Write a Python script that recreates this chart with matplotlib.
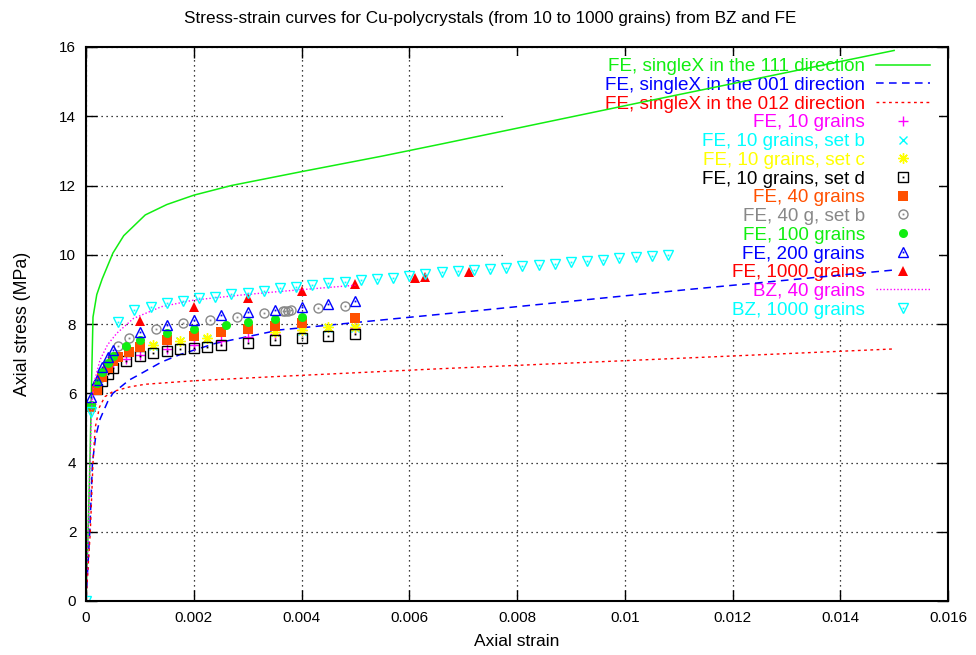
import matplotlib
matplotlib.use("Agg")
import matplotlib.pyplot as plt
from matplotlib.patches import Rectangle
from matplotlib.legend_handler import HandlerTuple

plt.rcParams['font.family'] = ['Liberation Sans', 'DejaVu Sans']

# ---------------- data ----------------
x111 = [0, 0.00004, 0.00008, 0.00011, 0.00013, 0.0002, 0.0003, 0.0005, 0.0007, 0.0011, 0.0015, 0.002, 0.0027, 0.004, 0.0055, 0.0066, 0.0103, 0.015]
y111 = [0, 2.0, 4.5, 6.8, 8.2, 8.85, 9.3, 10.05, 10.55, 11.15, 11.45, 11.72, 12.0, 12.4, 12.85, 13.2, 14.4, 15.9]

x001 = [0, 0.00007, 0.00012, 0.00018, 0.00026, 0.0004, 0.0005, 0.0008, 0.001, 0.0014, 0.00175, 0.0024, 0.0036, 0.0071, 0.0112, 0.015]
y001 = [0, 2.0, 4.0, 4.75, 5.25, 5.75, 6.0, 6.38, 6.55, 6.9, 7.12, 7.44, 7.83, 8.36, 9.0, 9.56]

x012 = [0, 0.00008, 0.00013, 0.00017, 0.00025, 0.00035, 0.0005, 0.0008, 0.0011, 0.002, 0.0035, 0.0066, 0.015]
y012 = [0, 2.0, 4.0, 5.0, 5.6, 5.9, 6.05, 6.18, 6.26, 6.36, 6.48, 6.71, 7.28]

x10 = [0.0001, 0.0002, 0.0003, 0.0004, 0.0005, 0.00075, 0.001, 0.0015, 0.002, 0.0025, 0.003, 0.0035, 0.004, 0.005]
y10 = [5.7, 6.2, 6.5, 6.7, 6.85, 7.0, 7.1, 7.27, 7.38, 7.52, 7.62, 7.72, 7.82, 7.88]

x10b = [0.00125, 0.00175, 0.00225, 0.0035, 0.004, 0.0045, 0.005]
y10b = [7.37, 7.5, 7.57, 7.76, 7.81, 7.88, 7.88]

x10c = [0.00125, 0.00175, 0.00225, 0.0035, 0.004, 0.0045, 0.005]
y10c = [7.39, 7.52, 7.59, 7.78, 7.83, 7.9, 7.9]

x10d = [0.0002, 0.0003, 0.0004, 0.0005, 0.00075, 0.001, 0.00125, 0.0015, 0.00175, 0.002, 0.00225, 0.0025, 0.003, 0.0035, 0.004, 0.0045, 0.005]
y10d = [6.11, 6.35, 6.55, 6.72, 6.94, 7.07, 7.15, 7.22, 7.28, 7.32, 7.34, 7.39, 7.46, 7.54, 7.59, 7.65, 7.7]

x40 = [0.0001, 0.0002, 0.0003, 0.0004, 0.0005, 0.0006, 0.0008, 0.001, 0.0015, 0.002, 0.0025, 0.003, 0.0035, 0.004, 0.005]
y40 = [5.6, 6.1, 6.48, 6.72, 6.93, 7.06, 7.2, 7.34, 7.54, 7.65, 7.78, 7.86, 7.94, 8.04, 8.16]

x40b = [0.0006, 0.0008, 0.0013, 0.0018, 0.0023, 0.0028, 0.0033, 0.00365, 0.0037, 0.00375, 0.0038, 0.0043, 0.0048]
y40b = [7.37, 7.59, 7.85, 8.02, 8.12, 8.21, 8.31, 8.37, 8.38, 8.38, 8.39, 8.45, 8.53]

x100 = [0.0001, 0.0002, 0.0003, 0.0004, 0.0005, 0.00075, 0.001, 0.0015, 0.002, 0.0026, 0.003, 0.0035, 0.004]
y100 = [5.66, 6.3, 6.62, 6.86, 7.07, 7.36, 7.54, 7.73, 7.86, 7.97, 8.07, 8.14, 8.21]

x200 = [0.0001, 0.0002, 0.0003, 0.0004, 0.0005, 0.001, 0.0015, 0.002, 0.0025, 0.003, 0.0035, 0.004, 0.0045, 0.005]
y200 = [5.9, 6.38, 6.77, 7.06, 7.25, 7.78, 7.97, 8.12, 8.26, 8.34, 8.40, 8.50, 8.58, 8.65]

x1000 = [0.001, 0.002, 0.003, 0.004, 0.005, 0.0061, 0.0063, 0.0071]
y1000 = [8.1, 8.5, 8.74, 8.96, 9.15, 9.32, 9.37, 9.49]

xbz40 = [0, 0.00006, 0.0001, 0.00015, 0.00026, 0.0004, 0.00057, 0.00088, 0.0014, 0.002, 0.0029, 0.0036, 0.005]
ybz40 = [0, 3.0, 5.5, 6.3, 6.96, 7.4, 7.73, 8.16, 8.5, 8.69, 8.84, 8.94, 9.12]

xbz1000 = [0, 0.0001, 0.0006, 0.0009, 0.0012, 0.0015, 0.0018, 0.0021, 0.0024, 0.0027, 0.003,
           0.0033, 0.0036, 0.0039, 0.0042, 0.0045, 0.0048, 0.0051, 0.0054, 0.0057, 0.006,
           0.0063, 0.0066, 0.0069, 0.0072, 0.0075, 0.0078, 0.0081, 0.0084, 0.0087, 0.009,
           0.0093, 0.0096, 0.0099, 0.0102, 0.0105, 0.0108]
ybz1000 = [0, 5.47, 8.07, 8.40, 8.50, 8.60, 8.67, 8.74, 8.79, 8.86, 8.90,
           8.96, 9.03, 9.08, 9.13, 9.18, 9.22, 9.27, 9.30, 9.34, 9.39,
           9.44, 9.49, 9.52, 9.55, 9.58, 9.61, 9.67, 9.70, 9.73, 9.78,
           9.81, 9.85, 9.90, 9.94, 9.97, 10.0]

labels = ["FE, singleX in the 111 direction", "FE, singleX in the 001 direction",
          "FE, singleX in the 012 direction", "FE, 10 grains", "FE, 10 grains, set b",
          "FE, 10 grains, set c", "FE, 10 grains, set d", "FE, 40 grains", "FE, 40 g, set b",
          "FE, 100 grains", "FE, 200 grains", "FE, 1000 grains", "BZ, 40 grains", "BZ, 1000 grains"]

GREEN = '#11ee11'
BLUE = '#0000ff'
RED = '#ff0000'
MAG = '#ff00ff'
CYAN = '#00ffff'
YEL = '#ffff00'
BLACK = '#000000'
ORANGE = '#ff5000'
GRAY = '#888888'
colors = [GREEN, BLUE, RED, MAG, CYAN, YEL, BLACK, ORANGE, GRAY, GREEN, BLUE, RED, MAG, CYAN]

# ---------------- figure ----------------
fig = plt.figure(figsize=(9.76, 6.55), dpi=100)
ax = fig.add_axes([86/976, 1-601/655, 862/976, 554/655])
ax.set_xlim(0, 0.016)
ax.set_ylim(0, 16)
ax.set_axisbelow(True)
ax.grid(True, color='black', linestyle=(0, (1, 3)), linewidth=0.9)

# opaque key area (drawn below data, above grid)
ax.add_patch(Rectangle((419/862, 0.512), 1 - 419/862 - 9/862, 1 - 0.512 - 9/554,
                       transform=ax.transAxes, facecolor='white', edgecolor='none', zorder=0.8))

handles = []
h, = ax.plot(x111, y111, color=GREEN, lw=1.1)
handles.append(h)
h, = ax.plot(x001, y001, color=BLUE, lw=1.1, linestyle=(0, (5, 3.5)))
handles.append(h)
h, = ax.plot(x012, y012, color=RED, lw=1.0, linestyle=(0, (2, 2.5)))
handles.append(h)

def pts(x, y, marker, color, ms, filled=False, dot=False, mew=1.0):
    if filled:
        l, = ax.plot(x, y, linestyle='none', marker=marker, color=color, ms=ms, mew=0)
    else:
        l, = ax.plot(x, y, linestyle='none', marker=marker, color=color,
                     markerfacecolor='none', ms=ms, mew=mew)
    if dot:
        d, = ax.plot(x, y, linestyle='none', marker='s', color=color, ms=1.3, mew=0)
        return (l, d)
    return l

handles.append(pts(x10, y10, '+', MAG, 6.5))
handles.append(pts(x10b, y10b, 'x', CYAN, 5.5))
handles.append(pts(x10c, y10c, (8, 2, 0), YEL, 7.5))
handles.append(pts(x10d, y10d, 's', BLACK, 6.5, dot=True))
handles.append(pts(x40, y40, 's', ORANGE, 6.5, filled=True))
handles.append(pts(x40b, y40b, 'o', GRAY, 6.5, dot=True))
handles.append(pts(x100, y100, 'o', GREEN, 6.5, filled=True))
handles.append(pts(x200, y200, '^', BLUE, 7.5, dot=True))
handles.append(pts(x1000, y1000, '^', RED, 7.5, filled=True))
h, = ax.plot(xbz40, ybz40, color=MAG, lw=1.0, linestyle=(0, (1, 1.5)))
handles.append(h)
handles.append(pts(xbz1000, ybz1000, 'v', CYAN, 7.5, dot=True))

leg = ax.legend(handles, labels, loc='upper right', bbox_to_anchor=(1 - 18/862, 1 - 11/554),
                frameon=False, markerfirst=False, fontsize=13.6, labelspacing=0.08,
                handlelength=2.85, handletextpad=0.6, borderpad=0, borderaxespad=0,
                numpoints=1, handler_map={tuple: HandlerTuple(ndivide=1, pad=0)})
leg.set_zorder(1)
for t, c in zip(leg.get_texts(), colors):
    t.set_color(c)

ax.set_xticks([0, 0.002, 0.004, 0.006, 0.008, 0.01, 0.012, 0.014, 0.016])
ax.set_xticklabels(['0', '0.002', '0.004', '0.006', '0.008', '0.01', '0.012', '0.014', '0.016'])
ax.set_yticks(range(0, 17, 2))
ax.tick_params(direction='in', length=8, width=1, top=True, right=True, labelsize=11, pad=7)
for s in ax.spines.values():
    s.set_linewidth(1.5)

ax.set_title("Stress-strain curves for Cu-polycrystals (from 10 to 1000 grains) from BZ and FE",
             fontsize=12.3, pad=17, x=(490 - 86) / 862)
ax.set_xlabel("Axial strain", fontsize=12.5, labelpad=7)
ax.set_ylabel("Axial stress (MPa)", fontsize=12.8, labelpad=20)

fig.savefig("out.png", dpi=100)
